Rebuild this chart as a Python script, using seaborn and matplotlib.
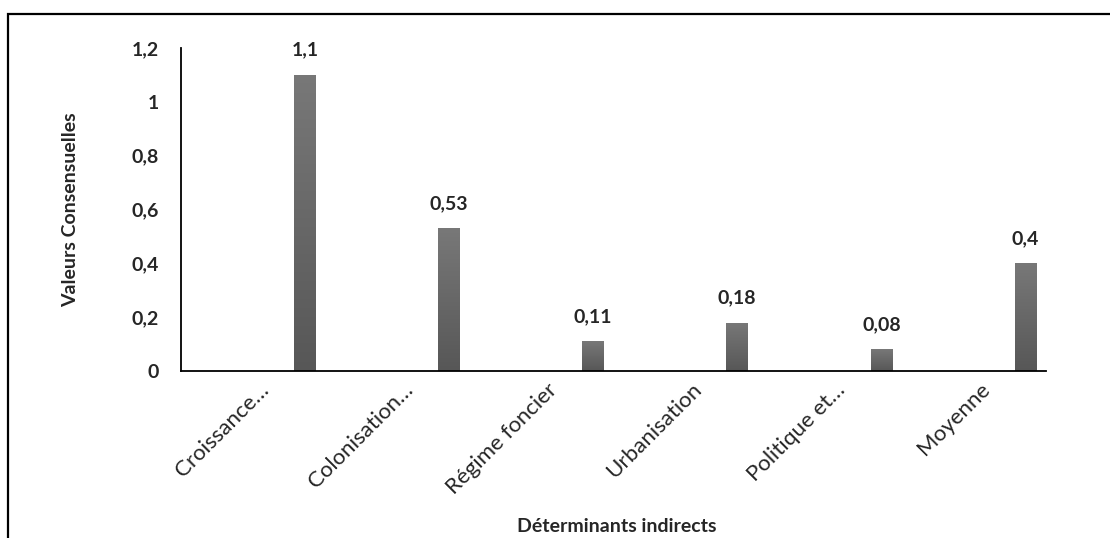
import numpy as np
import pandas as pd
import matplotlib
matplotlib.use("Agg")
import matplotlib.pyplot as plt
from matplotlib.patches import Rectangle
from matplotlib.ticker import FixedLocator, FuncFormatter
import seaborn as sns

# Indirect determinants and their consensus values
categories = ["Croissance…", "Colonisation…", "Régime foncier", "Urbanisation", "Politique et…", "Moyenne"]
values = [1.1, 0.53, 0.11, 0.18, 0.08, 0.4]
value_labels = ["1,1", "0,53", "0,11", "0,18", "0,08", "0,4"]
y_ticks = [0, 0.2, 0.4, 0.6, 0.8, 1.0, 1.2]

sns.set_theme(style="white")
plt.rcParams["font.family"] = ["Lato", "DejaVu Sans"]

df = pd.DataFrame({"cat": categories, "val": values})

fig = plt.figure(figsize=(11.1, 5.38), dpi=100)
ax = fig.add_axes([0.163, 0.3104, 0.779, 0.6004])

sns.barplot(data=df, x="cat", y="val", color="#666666", width=0.15,
            saturation=1, ax=ax, edgecolor="none")

# vertical grey gradient inside each bar
grad = np.linspace(0, 1, 256).reshape(-1, 1)
cmap = matplotlib.colors.LinearSegmentedColormap.from_list("g", ["#575757", "#787878"])
for p in list(ax.patches):
    x0, y0 = p.get_x(), p.get_y()
    w, h = p.get_width(), p.get_height()
    im = ax.imshow(grad, cmap=cmap, origin="lower", aspect="auto",
                   extent=[x0, x0 + w, y0, y0 + h], zorder=p.get_zorder() + 0.1)
    im.set_clip_path(p)

# bars sit on the right side of each category slot
shift = 0.36
n = len(categories)
ax.set_xlim(-shift - 0.5, n - 1 - shift + 0.5)
ax.set_ylim(0, 1.2)

ax.xaxis.set_major_locator(FixedLocator(np.arange(n) - shift))
ax.set_xticklabels(categories, rotation=45, ha="right", rotation_mode="anchor",
                   fontsize=16)
ax.xaxis.set_minor_locator(FixedLocator(np.arange(n + 1) - shift - 0.5))
ax.tick_params(axis="x", which="major", length=0, pad=6)
ax.tick_params(axis="x", which="minor", direction="in", length=5, width=1.2, color="black")
for lbl in ax.get_xticklabels():
    lbl.set_transform(lbl.get_transform() + matplotlib.transforms.ScaledTranslation(0.06, 0, fig.dpi_scale_trans))

ax.yaxis.set_major_locator(FixedLocator(y_ticks))
ax.yaxis.set_major_formatter(FuncFormatter(lambda v, _: ("%g" % v).replace(".", ",")))
ax.tick_params(axis="y", direction="out", length=5, width=1.2, color="black",
               labelsize=14, pad=11)
for lbl in ax.get_yticklabels():
    lbl.set_fontweight("bold")

for s in ["top", "right"]:
    ax.spines[s].set_visible(False)
for s in ["left", "bottom"]:
    ax.spines[s].set_color("black")
    ax.spines[s].set_linewidth(1.3)

for i, (v, t) in enumerate(zip(values, value_labels)):
    ax.annotate(t, (i, v), xytext=(0, 14), textcoords="offset points",
                ha="center", va="baseline", fontsize=14, fontweight="bold")

ax.set_xlabel("Déterminants indirects", fontsize=14, fontweight="bold", labelpad=0)
ax.xaxis.set_label_coords(0.504, -0.455)
ax.set_ylabel("Valeurs Consensuelles", fontsize=14, fontweight="bold")
ax.yaxis.set_label_coords(-0.118, 0.5)

# outer frame
fig.add_artist(Rectangle((8 / 1110, -0.1), 1.2, 1 - 14 / 538 + 0.1,
                         transform=fig.transFigure, fill=False,
                         edgecolor="black", linewidth=1.6))

fig.savefig("out.png", dpi=100)
